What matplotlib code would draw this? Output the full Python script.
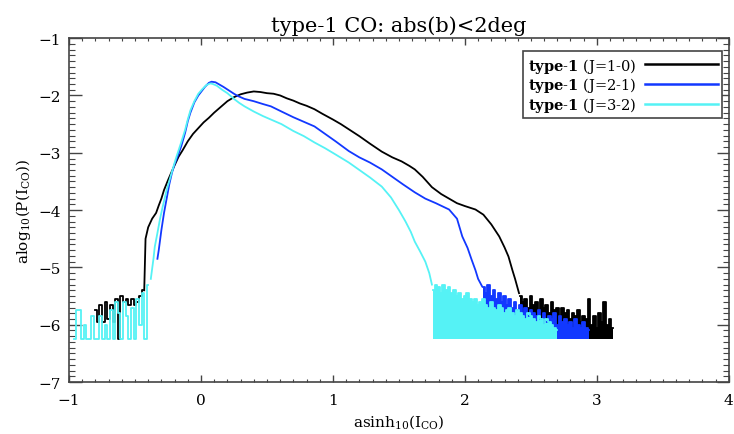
import numpy as np
import matplotlib
matplotlib.use("Agg")
import matplotlib.pyplot as plt
from matplotlib.ticker import MultipleLocator

plt.rcParams['font.family'] = ['DejaVu Serif']
plt.rcParams['mathtext.fontset'] = 'dejavuserif'

# ---------------------------------------------------------------
# Datos (asinh10(Ico), alog10(P))
bin_w = 0.02
floor = -6.25

# type-1 J=1-0
j10_left_x0 = -0.80
j10_left_y = [-5.75, -5.95, -5.65, -5.95, -5.60, -5.90, -5.65, -5.95, -5.55, -6.25,
              -5.50, -5.60, -5.55, -5.65, -5.55, -5.65, -5.60, -5.50, -5.40]
j10_x = [-0.43, -0.42, -0.40, -0.37, -0.34, -0.32, -0.30, -0.28, -0.25, -0.22, -0.19,
         -0.17, -0.14, -0.10, -0.06, -0.02, 0.02, 0.06, 0.10, 0.15, 0.20, 0.25, 0.30,
         0.35, 0.40, 0.45, 0.50, 0.55, 0.60, 0.65, 0.70, 0.75, 0.80, 0.86, 0.92, 1.00,
         1.06, 1.12, 1.20, 1.28, 1.37, 1.45, 1.52, 1.58, 1.62, 1.68, 1.75, 1.82, 1.88,
         1.94, 2.00, 2.08, 2.14, 2.20, 2.26, 2.30, 2.33, 2.36, 2.38, 2.41]
j10_y = [-5.40, -4.50, -4.30, -4.15, -4.05, -3.92, -3.80, -3.65, -3.48, -3.32, -3.17,
         -3.07, -2.96, -2.80, -2.67, -2.57, -2.47, -2.39, -2.30, -2.20, -2.10, -2.03, -1.98,
         -1.95, -1.93, -1.94, -1.96, -1.97, -2.00, -2.05, -2.09, -2.14, -2.18, -2.24, -2.32,
         -2.42, -2.50, -2.59, -2.71, -2.84, -2.98, -3.08, -3.15, -3.23, -3.29, -3.42, -3.60,
         -3.72, -3.80, -3.88, -3.93, -3.99, -4.08, -4.25, -4.46, -4.65, -4.81, -5.05,
         -5.20, -5.45]
j10_tail_x0 = 2.42
j10_tail_y = [-5.50, -5.60, -5.55, -5.70, -5.50, -5.65, -5.60, -5.75, -5.55, -5.70,
              -5.65, -5.80, -5.60, -5.75, -5.70, -5.85, -5.70, -5.80, -5.75, -5.90,
              -5.80, -5.85, -5.75, -5.95, -5.85, -5.90, -5.55, -6.00, -5.85, -6.05,
              -5.80, -5.95, -5.60, -6.00, -5.90, -6.05]

# type-1 J=2-1
j21_x = [-0.33, -0.32, -0.30, -0.28, -0.26, -0.24, -0.22, -0.20, -0.17, -0.15, -0.12,
         -0.10, -0.08, -0.05, -0.02, 0.00, 0.03, 0.06, 0.08, 0.11, 0.14, 0.17, 0.21,
         0.25, 0.28, 0.33, 0.40, 0.47, 0.53, 0.61, 0.70, 0.78, 0.86, 0.94, 1.02, 1.12,
         1.20, 1.28, 1.37, 1.45, 1.53, 1.62, 1.70, 1.78, 1.88, 1.94, 1.98, 2.02, 2.05,
         2.08, 2.10, 2.13]
j21_y = [-4.85, -4.70, -4.35, -4.05, -3.80, -3.55, -3.35, -3.20, -3.02, -2.89, -2.65,
         -2.45, -2.30, -2.12, -2.00, -1.94, -1.85, -1.78, -1.76, -1.77, -1.81, -1.85, -1.91,
         -1.97, -2.01, -2.06, -2.10, -2.15, -2.19, -2.28, -2.38, -2.46, -2.54, -2.67, -2.80,
         -2.97, -3.08, -3.17, -3.29, -3.42, -3.55, -3.69, -3.80, -3.88, -3.99, -4.15, -4.46,
         -4.66, -4.86, -5.05, -5.20, -5.33]
j21_tail_x0 = 2.14
j21_tail_y = [-5.35, -5.45, -5.30, -5.50, -5.40, -5.55, -5.45, -5.60, -5.50, -5.65,
              -5.55, -5.70, -5.60, -5.75, -5.65, -5.80, -5.70, -5.85, -5.75, -5.80,
              -5.85, -5.75, -5.90, -5.80, -5.95, -5.85, -5.90, -5.80, -6.00, -5.85,
              -5.95, -5.90, -6.00, -5.95, -6.05, -5.90, -6.00, -6.05, -5.95, -6.05, -6.10]

# type-1 J=3-2
j32_left_x0 = -0.96
j32_left_y = [-6.25, -5.75, -5.75, -6.25, -6.00, -6.25, -6.25, -5.85, -6.25, -6.25,
              -5.85, -6.25, -6.00, -6.25, -5.75, -6.25, -5.60, -5.80, -6.25, -5.60,
              -5.85, -6.25, -5.70, -6.25, -5.55, -6.00, -5.45, -6.25, -5.30]
j32_x = [-0.38, -0.36, -0.35, -0.33, -0.31, -0.29, -0.26, -0.23, -0.19, -0.15, -0.12,
         -0.10, -0.08, -0.05, -0.02, 0.01, 0.04, 0.07, 0.09, 0.12, 0.16, 0.20, 0.25,
         0.29, 0.33, 0.40, 0.47, 0.53, 0.61, 0.70, 0.78, 0.86, 0.94, 1.02, 1.12, 1.20,
         1.28, 1.37, 1.44, 1.50, 1.55, 1.59, 1.62, 1.66, 1.70, 1.73, 1.75]
j32_y = [-5.20, -4.85, -4.64, -4.40, -4.15, -3.94, -3.65, -3.41, -3.10, -2.82, -2.60,
         -2.42, -2.26, -2.10, -1.97, -1.89, -1.82, -1.79, -1.80, -1.83, -1.90, -1.96, -2.06,
         -2.13, -2.19, -2.28, -2.36, -2.42, -2.50, -2.62, -2.71, -2.82, -2.92, -3.03, -3.17,
         -3.30, -3.43, -3.59, -3.78, -4.00, -4.20, -4.38, -4.55, -4.72, -4.90, -5.10, -5.30]
j32_tail_x0 = 1.76
j32_tail_y = [-5.40, -5.30, -5.35, -5.45, -5.30, -5.40, -5.35, -5.45, -5.40, -5.50,
              -5.45, -5.55, -5.50, -5.45, -5.55, -5.60, -5.55, -5.65, -5.60, -5.55,
              -5.65, -5.70, -5.60, -5.70, -5.75, -5.65, -5.70, -5.80, -5.75, -5.70,
              -5.80, -5.85, -5.75, -5.80, -5.85, -5.90, -5.80, -5.85, -5.90, -5.95,
              -5.85, -5.90, -6.00, -5.90, -5.95, -6.00, -6.05, -6.10]

labels = [r'$\mathbf{type\text{-}1}$ (J=1-0)', r'$\mathbf{type\text{-}1}$ (J=2-1)',
          r'$\mathbf{type\text{-}1}$ (J=3-2)']
colores = ['black', '#1238ff', '#55f2f5']

# ---------------------------------------------------------------
def bins(x0, ys):
    return x0 + bin_w * np.arange(len(ys))

fig = plt.figure(figsize=(7.34, 4.35), dpi=100)
ax = fig.add_axes([0.094, 0.1195, 0.899, 0.7905])

lw = 1.3

def cola(x0, ys, c):
    xs = bins(x0, ys)
    ax.fill_between(xs, ys, floor, step='mid', color=c, lw=0)
    ax.step(xs, ys, where='mid', color=c, lw=lw)

# J=1-0
ax.step(bins(j10_left_x0, j10_left_y), j10_left_y, where='mid', color=colores[0], lw=lw)
ax.plot(j10_x, j10_y, color=colores[0], lw=lw, label=labels[0])
cola(j10_tail_x0, j10_tail_y, colores[0])
# J=2-1
ax.plot(j21_x, j21_y, color=colores[1], lw=lw, label=labels[1])
cola(j21_tail_x0, j21_tail_y, colores[1])
# J=3-2
ax.step(bins(j32_left_x0, j32_left_y), j32_left_y, where='mid', color=colores[2], lw=lw)
ax.plot(j32_x, j32_y, color=colores[2], lw=lw, label=labels[2])
cola(j32_tail_x0, j32_tail_y, colores[2])

ax.set_xlim(-1, 4)
ax.set_ylim(-7, -1)
ax.xaxis.set_major_locator(MultipleLocator(1))
ax.xaxis.set_minor_locator(MultipleLocator(0.1))
ax.yaxis.set_major_locator(MultipleLocator(1))
ax.yaxis.set_minor_locator(MultipleLocator(0.1))
ax.tick_params(axis='both', which='both', direction='in', top=True, right=True,
               labelsize=11, color='#444444')
ax.tick_params(axis='x', which='major', length=5, width=1, pad=8)
ax.tick_params(axis='x', which='minor', length=2.5, width=0.8)
ax.tick_params(axis='y', which='major', length=9, width=1, pad=6)
ax.tick_params(axis='y', which='minor', length=4.5, width=0.8)
for s in ax.spines.values():
    s.set_color('#444444')
    s.set_linewidth(1.2)

ax.set_title('type-1 CO: abs(b)<2deg', fontsize=15, pad=5)
ax.set_xlabel(r'asinh$_{10}$(I$_{\rm CO}$)', fontsize=11, labelpad=4)
ax.set_ylabel(r'alog$_{10}$(P(I$_{\rm CO}$))', fontsize=11, labelpad=4)

leg = ax.legend(loc='upper right', bbox_to_anchor=(0.99, 0.962), markerfirst=False,
                handlelength=5.0, handletextpad=0.6, labelspacing=0.05, borderpad=0.3,
                fancybox=False, edgecolor='#444444', fontsize=10.5, framealpha=1,
                borderaxespad=0)
leg.get_frame().set_linewidth(1.2)
for h in leg.get_lines():
    h.set_linewidth(1.8)

fig.savefig('out.png', dpi=100)
